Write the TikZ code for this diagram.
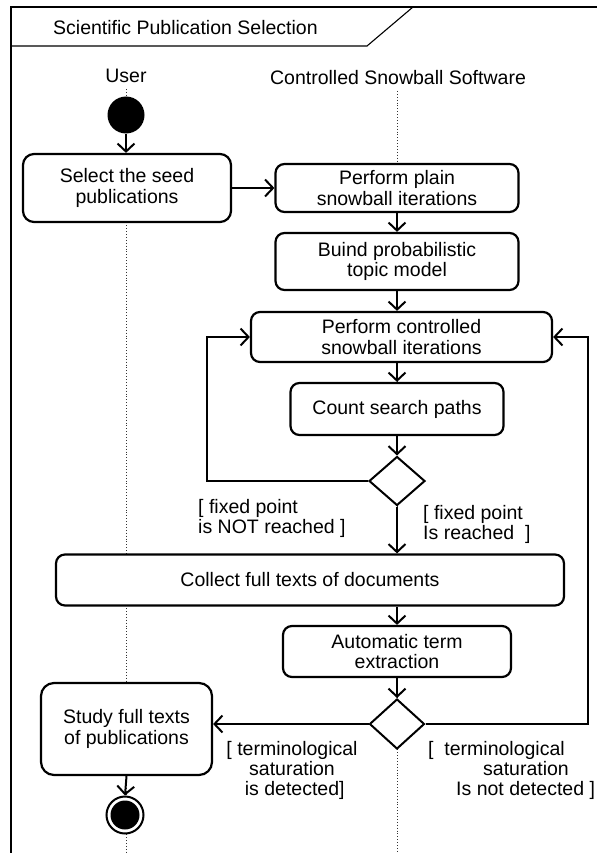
\documentclass[tikz,border=0pt]{standalone}
\usepackage{fontspec}
\setmainfont{Liberation Sans}
\usetikzlibrary{arrows.meta,shapes.geometric,calc}
\begin{document}
\begin{tikzpicture}[x=1pt,y=-1pt,
  txt/.style={font=\fontsize{19.5}{20.5}\selectfont},
  act/.style={draw, line width=2.2pt, rounded corners=9pt, fill=white, align=center, inner sep=0pt, txt},
  dec/.style={draw, line width=2pt, diamond, fill=white, inner sep=0pt, minimum width=56pt, minimum height=49pt},
  flow/.style={line width=2pt, -{Straight Barb[length=8pt,width=17pt]}},
  life/.style={dotted, line width=0.9pt, black!80},
  guard/.style={txt, inner sep=0pt, align=left, font=\fontsize{19.5}{20}\selectfont},
  frameline/.style={line width=1.3pt}
]
\useasboundingbox (0,0) rectangle (597,853);
% frame
\draw[frameline] (11,853) -- (11,7) -- (597,7);
\draw[line width=1.1pt] (11,46) -- (367,46) -- (413,7);
\node[txt, anchor=base west, inner sep=0pt] (title) at (53,35) {Scientific Publication Selection};
% swimlane headings
\node[txt, anchor=base, inner sep=0pt] (user) at (126,83) {User};
\node[txt, anchor=base, inner sep=0pt] (soft) at (398,85) {Controlled Snowball Software};
% lifelines
\coordinate (u0) at (126,89);
\coordinate (u1) at (126,853);
\coordinate (s0) at (397,91);
\coordinate (s1) at (397,853);
\draw[life] (u0) -- (u1);
\draw[life] (s0) -- (s1);
% nodes
\node[circle, fill=black, minimum size=37pt, inner sep=0pt] (start) at (126,115) {};
\node[act, rounded corners=11pt, minimum width=208pt, minimum height=68pt] (select) at (127,188) {Select the seed\\publications};
\node[act, minimum width=243pt, minimum height=48pt] (plain) at (397,188) {Perform plain\\snowball iterations};
\node[act, minimum width=243pt, minimum height=57pt] (buind) at (397,261.5) {Buind probabilistic\\topic model};
\node[act, minimum width=301pt, minimum height=50pt] (controlled) at (401.5,337) {Perform controlled\\snowball iterations};
\node[act, minimum width=213pt, minimum height=52pt] (count) at (397,409) {Count search paths};
\node[dec] (d1) at (397,481) {};
\node[act, minimum width=508pt, minimum height=51pt] (collect) at (310,580) {Collect full texts of documents};
\node[act, minimum width=228pt, minimum height=51pt] (auto) at (397,651.5) {Automatic term\\extraction};
\node[dec, minimum width=55pt, minimum height=50pt] (d2) at (397,724) {};
\node[act, rounded corners=13pt, minimum width=171pt, minimum height=92pt] (study) at (126.5,729) {Study full texts\\of publications};
\node[circle, draw, line width=2pt, fill=white, minimum size=37pt, inner sep=0pt] (end) at (125,815) {};
\fill (end.center) circle (14.5);
% guards
\node[guard, anchor=north west] (g1) at (198,499) {[ fixed point\\is NOT reached ]};
\node[guard, anchor=north west] (g2) at (423,505) {[ fixed point\\Is reached\ \ ]};
\node[guard, anchor=north, align=center] (g3) at (292,741) {[ terminological\\saturation\\\ is detected]};
\node[guard, anchor=north west] (g4) at (428,741) {[\ \ terminological\\\hspace*{55pt}saturation\\\hspace*{28pt}Is not detected ]};
% flows
\coordinate (L) at (207,0);
\coordinate (R) at (588,0);
\draw[flow] (start.south) -- (start.south |- select.north);
\draw[flow] (select.east) -- (plain.west);
\draw[flow] (plain.south) -- (buind.north);
\draw[flow] (buind.south) -- (buind.south |- controlled.north);
\draw[flow] (count.north |- controlled.south) -- (count.north);
\draw[flow] (count.south) -- (d1.north);
\draw[flow] (d1.west) -- (d1.west -| L) |- (controlled.west);
\draw[flow] (d1.south) -- (d1.south |- collect.north);
\draw[flow] (auto.north |- collect.south) -- (auto.north);
\draw[flow] (auto.south) -- (d2.north);
\draw[flow] (d2.west) -- (d2.west -| study.east);
\draw[flow] (d2.east) -- (d2.east -| R) |- (controlled.east);
\draw[flow] (study.south) -- (end.north);
\end{tikzpicture}
\end{document}
